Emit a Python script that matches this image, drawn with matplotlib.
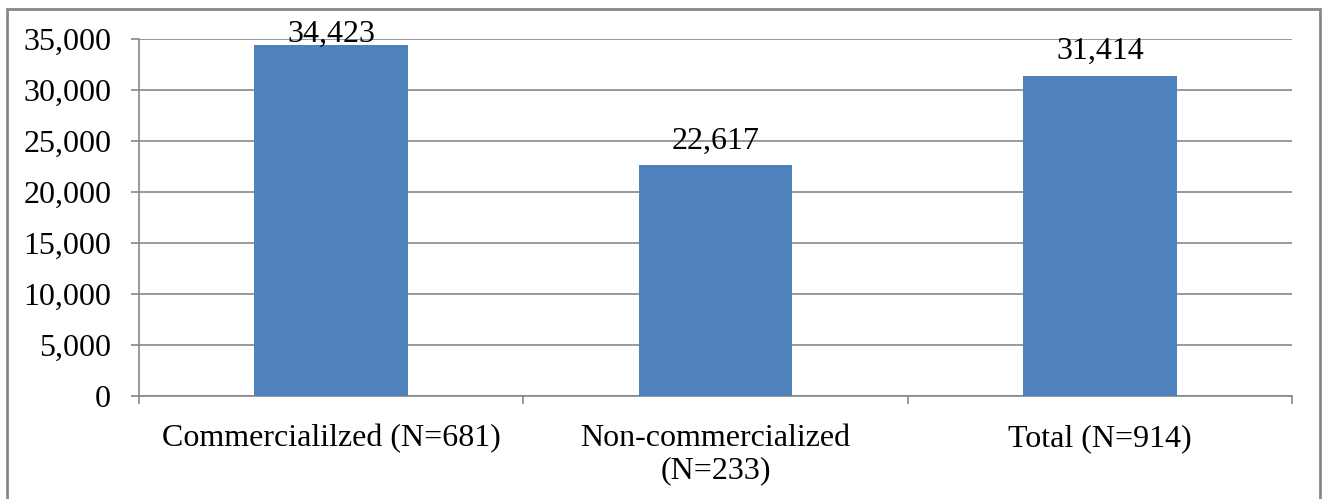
import matplotlib.pyplot as plt
from matplotlib.patches import Rectangle
from matplotlib.ticker import FuncFormatter

categories = ["Commercialilzed (N=681)", "Non-commercialized\n(N=233)", "Total (N=914)"]
values = [34423, 22617, 31414]
y_ticks = [0, 5000, 10000, 15000, 20000, 25000, 30000, 35000]

bar_color = "#4F81BD"
line_color = "#878787"

plt.rcParams["font.family"] = ["Liberation Serif", "DejaVu Serif"]

fig = plt.figure(figsize=(13.23, 4.99), dpi=100)
ax = fig.add_axes([139 / 1323, 1 - 396 / 499, (1292 - 139) / 1323, (396 - 39) / 499])

x = list(range(len(categories)))
ax.bar(x, values, width=0.4, color=bar_color, zorder=3)

ax.set_xlim(-0.5, len(categories) - 0.5)
ax.set_ylim(0, 35000)
ax.set_yticks(y_ticks)
ax.yaxis.set_major_formatter(FuncFormatter(lambda v, p: f"{int(v):,}"))
ax.grid(axis="y", color=line_color, linewidth=1.2, zorder=0)

# category boundary ticks, labels centred under bars
ax.set_xticks([i - 0.5 for i in range(len(categories) + 1)])
ax.set_xticklabels([])
ax.set_xticks(x, minor=True)
ax.set_xticklabels(categories, minor=True, fontsize=23, linespacing=1.15)
ax.tick_params(axis="x", which="minor", length=0, pad=20)
ax.tick_params(axis="x", which="major", length=6, color=line_color, width=1.2)
ax.tick_params(axis="y", length=6, color=line_color, width=1.2, labelsize=23, pad=14)

for s in ["top", "right"]:
    ax.spines[s].set_visible(False)
for s in ["left", "bottom"]:
    ax.spines[s].set_color(line_color)
    ax.spines[s].set_linewidth(1.2)

for xi, v in zip(x, values):
    off = 7 if v < 0.95 * 35000 else -3
    ax.annotate(f"{v:,}", xy=(xi, v), xytext=(0, off), textcoords="offset points",
                ha="center", va="bottom", fontsize=23, annotation_clip=False)

# outer chart frame
fig.patches.append(Rectangle((7 / 1323, -0.1), (1320 - 7) / 1323, 1.1 - 9 / 499,
                             transform=fig.transFigure, fill=False,
                             edgecolor=line_color, linewidth=2))

fig.savefig("out.png", dpi=100)
